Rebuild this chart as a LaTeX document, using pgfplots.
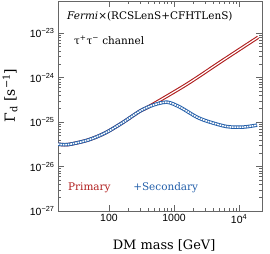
\documentclass[border=0pt]{standalone}
\usepackage{pgfplots}
\pgfplotsset{compat=1.18}
\usepackage{fontspec}
\setmainfont{DejaVu Serif}
\setsansfont{Liberation Sans}
\definecolor{pred}{RGB}{176,30,30}
\definecolor{pblue}{RGB}{35,95,170}
\begin{document}
\begin{tikzpicture}
\begin{axis}[
  scale only axis, width=204bp, height=210bp,
  xmode=log, ymode=log,
  xmin=16.5, xmax=22500, ymin=1e-27, ymax=5.3e-23,
  xtick={100,1000,10000}, xticklabels={100,1000,10\textsuperscript{4}},
  ytick={1e-27,1e-26,1e-25,1e-24,1e-23},
  yticklabels={10\textsuperscript{−27},10\textsuperscript{−26},10\textsuperscript{−25},10\textsuperscript{−24},10\textsuperscript{−23}},
  tick label style={font=\sffamily\fontsize{10.5}{12}\selectfont},
  tick align=inside, major tick length=6bp, minor tick length=3bp,
  axis line style={black!60, line width=0.6pt}, every tick/.style={black!60, line width=0.5pt},
  xlabel={DM mass [GeV]},
  ylabel={Γ\textsubscript{d} [s\textsuperscript{−1}]},
  label style={font=\fontsize{13}{15}\selectfont},
  xlabel style={at={(axis description cs:0.52,-0.162)}, anchor=center},
  ylabel style={at={(axis description cs:-0.235,0.55)}, anchor=center, font=\fontsize{14}{16}\selectfont},
  clip=true,
]
\coordinate (ll) at (rel axis cs:0,0);
\coordinate (ur) at (rel axis cs:1,1);
% Primary (red band)
\addplot[pred, line width=3.4pt, smooth] table {
x y
16.4 3.20e-26
23.4 3.12e-26
47.6 3.95e-26
86.8 5.66e-26
158 9.5e-26
300 1.77e-25
398 2.17e-25
780 3.84e-25
1762 7.9e-25
5680 2.47e-24
19600 8.1e-24
};
\addplot[white, line width=1.2pt, smooth] table {
x y
16.4 3.20e-26
23.4 3.12e-26
47.6 3.95e-26
86.8 5.66e-26
158 9.5e-26
300 1.77e-25
398 2.17e-25
780 3.84e-25
1762 7.9e-25
5680 2.47e-24
19600 8.1e-24
};
% Primary + Secondary (blue hatched band)
\addplot[pblue, line width=3.5pt, smooth] table {
x y
16.4 3.20e-26
23.4 3.12e-26
47.6 3.95e-26
86.8 5.66e-26
158 9.5e-26
300 1.77e-25
475 2.41e-25
780 2.81e-25
1236 2.17e-25
2259 1.29e-25
3580 1.0e-25
6530 7.93e-26
11530 7.72e-26
18900 8.56e-26
};
\addplot[white, line width=1.6pt, smooth, dash pattern=on 1.7pt off 0.8pt] table {
x y
16.4 3.20e-26
23.4 3.12e-26
47.6 3.95e-26
86.8 5.66e-26
158 9.5e-26
300 1.77e-25
475 2.41e-25
780 2.81e-25
1236 2.17e-25
2259 1.29e-25
3580 1.0e-25
6530 7.93e-26
11530 7.72e-26
18900 8.56e-26
};
\node[anchor=west, font=\fontsize{10.5}{12}\selectfont, inner sep=0pt] at (axis description cs:0.044,0.929) {\textit{Fermi}×(RCSLenS+CFHTLenS)};
\node[anchor=west, font=\fontsize{10.5}{12}\selectfont, inner sep=0pt] at (axis description cs:0.078,0.814) {τ\textsuperscript{+}τ\textsuperscript{−} channel};
\node[anchor=west, font=\fontsize{10.5}{12}\selectfont, inner sep=0pt, text=pred] at (axis description cs:0.049,0.11) {Primary};
\node[anchor=west, font=\fontsize{10.5}{12}\selectfont, inner sep=0pt, text=pblue] at (axis description cs:0.368,0.11) {+Secondary};
\end{axis}
\pgfresetboundingbox
\path[use as bounding box] ([xshift=-58bp,yshift=-43bp]ll) rectangle ([xshift=8bp,yshift=1bp]ur);
\end{tikzpicture}
\end{document}
